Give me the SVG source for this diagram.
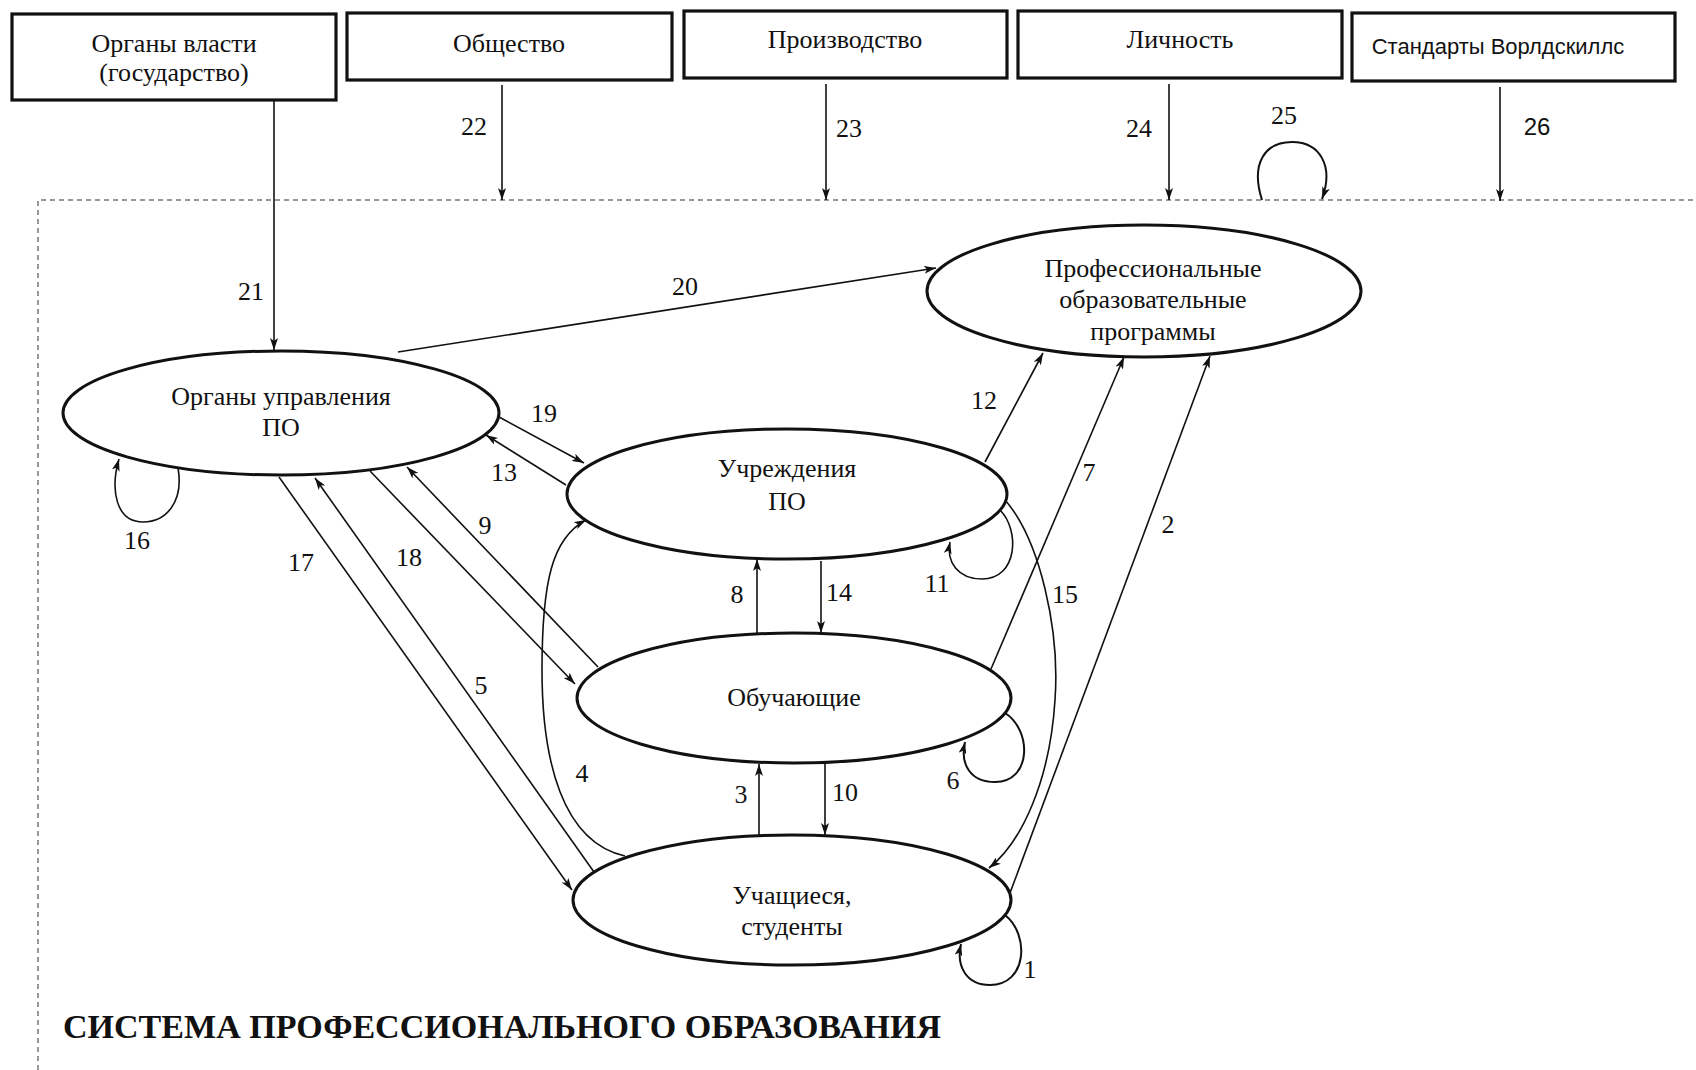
<svg xmlns="http://www.w3.org/2000/svg" width="1696" height="1070" viewBox="0 0 1696 1070">
<defs>
<marker id="ah" viewBox="0 0 12 8" refX="12" refY="4" markerWidth="12" markerHeight="8" markerUnits="userSpaceOnUse" orient="auto">
<path d="M0,0 L12,4 L0,8 L3,4 z" fill="#111"/>
</marker>
<style>
.box{fill:#fff;stroke:#111;stroke-width:3.2}
.ell{fill:#fff;stroke:#111;stroke-width:3}
.t{font-family:"Liberation Serif","Times New Roman",serif;font-size:26px;fill:#111;text-anchor:middle}
.ts{font-family:"Liberation Sans",Arial,sans-serif;font-size:22px;fill:#111;text-anchor:middle}
.lbl{font-family:"Liberation Serif","Times New Roman",serif;font-size:26px;fill:#111;text-anchor:middle}
.c{fill:none;stroke:#111;stroke-width:1.6;marker-end:url(#ah)}
.cl{fill:none;stroke:#111;stroke-width:2;marker-end:url(#ah)}
.frame{fill:none;stroke:#777;stroke-width:1.5;stroke-dasharray:5 4}
</style>
</defs>
<rect width="1696" height="1070" fill="#fff"/>
<path class="frame" d="M38,1070 L38,200 L1696,200"/>

<g id="connectors">
<line class="c" x1="274" y1="100" x2="274" y2="350"/>
<line class="c" x1="502" y1="85" x2="502" y2="200"/>
<line class="c" x1="826" y1="84" x2="826" y2="200"/>
<line class="c" x1="1169" y1="84" x2="1169" y2="200"/>
<path class="cl" d="M1262,200 C1250,162 1266,142 1292,142 C1320,142 1334,166 1322,199"/>
<line class="c" x1="1500" y1="87" x2="1500" y2="201"/>
<line class="c" x1="398" y1="352" x2="936" y2="268"/>
<line class="c" x1="499" y1="417" x2="584" y2="463"/>
<line class="c" x1="566" y1="485" x2="486" y2="435"/>
<path class="c" d="M178,468 C184,502 166,522 143,522 C116,522 110,490 119,459"/>
<line class="c" x1="279" y1="477" x2="572" y2="890"/>
<line class="c" x1="594" y1="872" x2="315" y2="478"/>
<line class="c" x1="370" y1="471" x2="575" y2="684"/>
<line class="c" x1="598" y1="667" x2="407" y2="467"/>
<path class="c" d="M625,856 C562,842 542,760 542,670 C542,582 552,538 586,520"/>
<line class="c" x1="757" y1="634" x2="757" y2="559"/>
<line class="c" x1="821" y1="561" x2="821" y2="633"/>
<line class="c" x1="759" y1="836" x2="759" y2="764"/>
<line class="c" x1="825" y1="764" x2="825" y2="835"/>
<line class="c" x1="985" y1="462" x2="1043" y2="353"/>
<line class="c" x1="991" y1="669" x2="1124" y2="357"/>
<line class="c" x1="1010" y1="893" x2="1210" y2="356"/>
<path class="c" d="M1000,510 C1020,530 1018,579 982,579 C958,579 946,562 950,542"/>
<path class="c" d="M1005,500 C1040,540 1060,630 1055,700 C1050,780 1022,842 989,868"/>
<path class="cl" d="M1005,713 C1032,730 1032,782 995,782 C970,782 960,764 965,742"/>
<path class="cl" d="M1005,915 C1030,935 1027,985 990,985 C966,985 956,966 961,944"/>
</g>

<g id="box-vlast"><rect class="box" x="12" y="14" width="324" height="86"/><text class="t" x="174" y="52">Органы власти</text><text class="t" x="174" y="81">(государство)</text></g>
<g id="box-obsh"><rect class="box" x="347" y="13" width="325" height="67"/><text class="t" x="509" y="52">Общество</text></g>
<g id="box-proizv"><rect class="box" x="684" y="11" width="323" height="67"/><text class="t" x="845" y="48">Производство</text></g>
<g id="box-lichn"><rect class="box" x="1018" y="11" width="324" height="67"/><text class="t" x="1180" y="48">Личность</text></g>
<g id="box-ws"><rect class="box" x="1352" y="13" width="323" height="68"/><text class="ts" x="1498" y="54">Стандарты Ворлдскиллс</text></g>

<g id="n-organy"><ellipse class="ell" cx="281" cy="413" rx="218" ry="62"/><text class="t" x="281" y="405">Органы управления</text><text class="t" x="281" y="436">ПО</text></g>
<g id="n-programmy"><ellipse class="ell" cx="1144" cy="291" rx="217" ry="66"/><text class="t" x="1153" y="277">Профессиональные</text><text class="t" x="1153" y="308">образовательные</text><text class="t" x="1153" y="340">программы</text></g>
<g id="n-uchrezh"><ellipse class="ell" cx="787" cy="494" rx="220" ry="65"/><text class="t" x="787" y="477">Учреждения</text><text class="t" x="787" y="510">ПО</text></g>
<g id="n-obuch"><ellipse class="ell" cx="794" cy="698" rx="217" ry="65"/><text class="t" x="794" y="706">Обучающие</text></g>
<g id="n-uchash"><ellipse class="ell" cx="792" cy="900" rx="219" ry="65"/><text class="t" x="792" y="904">Учащиеся,</text><text class="t" x="792" y="935">студенты</text></g>

<g id="labels">
<text class="lbl" x="251" y="300">21</text>
<text class="lbl" x="474" y="135">22</text>
<text class="lbl" x="849" y="137">23</text>
<text class="lbl" x="1139" y="137">24</text>
<text class="lbl" x="1284" y="124">25</text>
<text class="ts" x="1537" y="135" style="font-size:24px">26</text>
<text class="lbl" x="685" y="295">20</text>
<text class="lbl" x="544" y="422">19</text>
<text class="lbl" x="504" y="481">13</text>
<text class="lbl" x="137" y="549">16</text>
<text class="lbl" x="301" y="571">17</text>
<text class="lbl" x="409" y="566">18</text>
<text class="lbl" x="485" y="534">9</text>
<text class="lbl" x="481" y="694">5</text>
<text class="lbl" x="582" y="782">4</text>
<text class="lbl" x="737" y="603">8</text>
<text class="lbl" x="839" y="601">14</text>
<text class="lbl" x="741" y="803">3</text>
<text class="lbl" x="845" y="801">10</text>
<text class="lbl" x="984" y="409">12</text>
<text class="lbl" x="1089" y="481">7</text>
<text class="lbl" x="1168" y="533">2</text>
<text class="lbl" x="937" y="592">11</text>
<text class="lbl" x="1065" y="603">15</text>
<text class="lbl" x="953" y="789">6</text>
<text class="lbl" x="1030" y="978">1</text>
</g>
<text x="63" y="1038" textLength="878" lengthAdjust="spacingAndGlyphs" style="font-family:'Liberation Serif','Times New Roman',serif;font-size:33px;font-weight:bold;fill:#111">СИСТЕМА ПРОФЕССИОНАЛЬНОГО ОБРАЗОВАНИЯ</text>
</svg>
